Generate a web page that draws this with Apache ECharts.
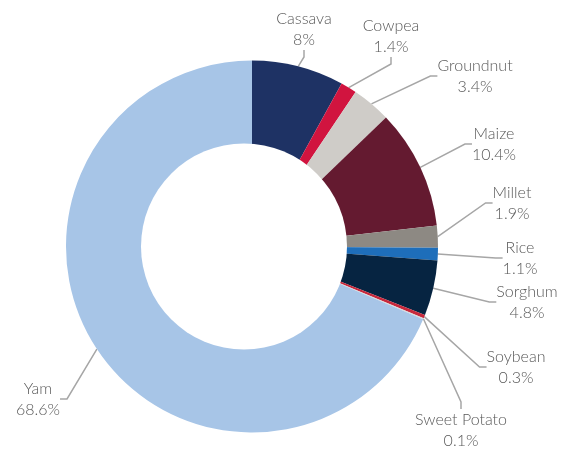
<!DOCTYPE html>
<html>
<head>
<meta charset="utf-8">
<script src="https://cdn.jsdelivr.net/npm/echarts@6/dist/echarts.min.js"></script>
<style>
  html, body { margin: 0; padding: 0; background: #fff; }
  #chart { width: 574px; height: 450px; }
</style>
</head>
<body>
<div id="chart"></div>
<script>
// crop shares (%), clockwise from 12 o'clock
const crops = ['Cassava', 'Cowpea', 'Groundnut', 'Maize', 'Millet', 'Rice', 'Sorghum', 'Soybean', 'Sweet Potato', 'Yam'];
const shares = [8, 1.4, 3.4, 10.4, 1.9, 1.1, 4.8, 0.3, 0.1, 68.6];

const colors = ['#1e3264', '#d1143f', '#cfccc8', '#641a30', '#8d8983', '#1e6eba', '#062441', '#c8283c', '#d9d9d9', '#a7c5e7'];
// where each label block is centred (placed by hand in the original)
const labelPos = [
  [304, 29], [391, 36], [475, 76], [494, 144], [512, 203],
  [520, 258], [527, 302], [516, 367], [461, 430], [38, 399]
];

var myChart = echarts.init(document.getElementById('chart'));
var option = {
  animation: false,
  // the hole of the original doughnut sits a little left of the ring's centre
  graphic: [
    {
      type: 'circle',
      z: 100,
      silent: true,
      shape: { cx: 244, cy: 246.5, r: 103 },
      style: { fill: '#fff' }
    }
  ],
  series: [
    {
      type: 'pie',
      center: [252, 246.5],
      radius: [0, 186],
      startAngle: 90,
      clockwise: true,
      avoidLabelOverlap: false,
      data: crops.map((c, i) => ({ name: c, value: shares[i], itemStyle: { color: colors[i] } })),
      itemStyle: { borderWidth: 0 },
      label: {
        show: true,
        formatter: '{b}\n{c}%',
        fontFamily: 'Lato',
        fontWeight: 300,
        fontSize: 16,
        lineHeight: 21,
        color: '#595959',
        align: 'center'
      },
      labelLine: {
        show: true,
        length: 10,
        length2: 7,
        lineStyle: { color: '#a6a6a6', width: 1.5 }
      },
      labelLayout: function (params) {
        const p = labelPos[params.dataIndex];
        return { x: p[0], y: p[1], align: 'center', verticalAlign: 'middle', moveOverlap: null };
      },
      emphasis: { disabled: true }
    }
  ]
};
option && myChart.setOption(option);
</script>
</body>
</html>
